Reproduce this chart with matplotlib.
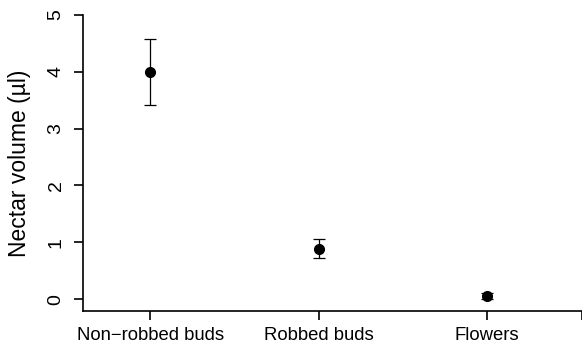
import matplotlib
matplotlib.use("Agg")
import matplotlib.pyplot as plt

# --- Data ---
CATEGORIES = ["Non\u2212robbed buds", "Robbed buds", "Flowers"]
MEANS = [4.0, 0.89, 0.06]
ERRORS = [0.58, 0.17, 0.05]

plt.rcParams['font.family'] = ['Liberation Sans', 'DejaVu Sans']

fig = plt.figure(figsize=(5.82, 3.46), dpi=100)
ax = fig.add_axes([83 / 582, 35 / 346, (581.5 - 83) / 582, (311 - 15) / 346])

positions = list(range(1, len(CATEGORIES) + 1))
ax.errorbar(positions, MEANS, yerr=ERRORS, fmt='o', color='black',
            markersize=7, elinewidth=0.9, capsize=4, capthick=0.9)

ax.set_xlim(0.6, 3.56)
ax.set_ylim(-0.21, 5)

ax.set_xticks(positions + [3.56])
ax.set_xticklabels(CATEGORIES + [""], fontsize=13.3)
ax.set_yticks(range(6))
ax.set_yticklabels([str(v) for v in range(6)], fontsize=14, rotation=90, va='center')
ax.set_ylabel("Nectar volume (\u00b5l)", fontsize=16.5, va='center')
ax.yaxis.set_label_coords((20 - 83) / 498.5, 0.5)

for side in ("top", "right"):
    ax.spines[side].set_visible(False)
for side in ("left", "bottom"):
    ax.spines[side].set_linewidth(1.2)
ax.spines["left"].set_bounds(-0.21, 5)
ax.tick_params(axis='both', length=6.3, width=1.2)
ax.tick_params(axis='x', pad=5.5)
ax.tick_params(axis='y', pad=7)

fig.savefig("out.png", dpi=100)
